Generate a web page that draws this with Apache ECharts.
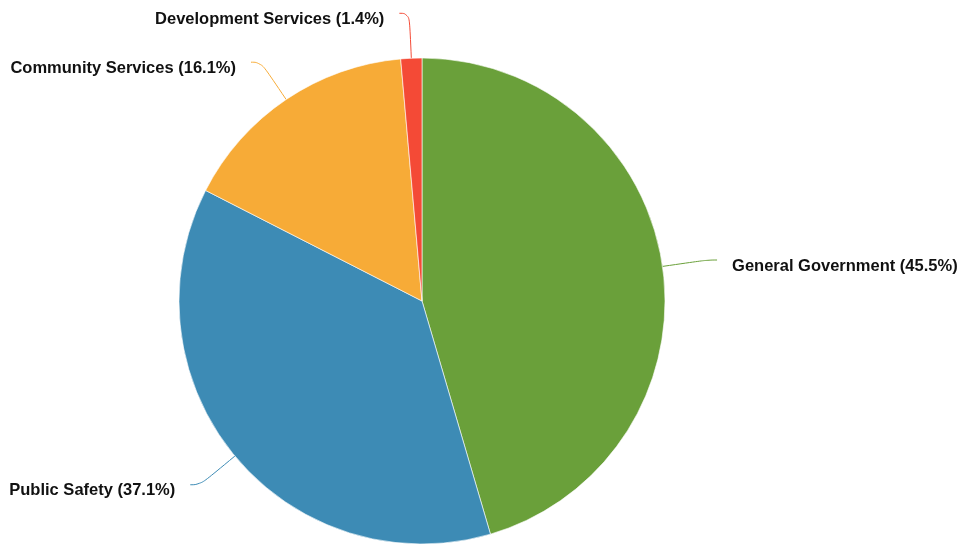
<!DOCTYPE html>
<html>
<head>
<meta charset="utf-8">
<script src="https://cdn.jsdelivr.net/npm/echarts@6/dist/echarts.min.js"></script>
<style>
  html, body { margin: 0; padding: 0; background: #fff; }
  #chart { width: 961px; height: 544px; }
</style>
</head>
<body>
<div id="chart"></div>
<script>
const categories = ['General Government', 'Public Safety', 'Community Services', 'Development Services'];
const values = [45.5, 37.1, 16.1, 1.4];
const colors = ['#6aa03a', '#3d8bb5', '#f7ab37', '#f44a36'];

const chart = echarts.init(document.getElementById('chart'), null, { renderer: 'canvas' });
chart.setOption({
  animation: false,
  series: [{
    type: 'pie',
    center: [422, 301],
    radius: [0, 243],
    startAngle: 90,
    clockwise: true,
    avoidLabelOverlap: false,
    data: categories.map((c, i) => ({ name: c, value: values[i], itemStyle: { color: colors[i] } })),
    itemStyle: { borderColor: '#ffffff', borderWidth: 0.6 },
    label: {
      show: true,
      position: 'outside',
      formatter: p => '\n' + p.name + ' (' + p.value.toFixed(1) + '%)',
      fontFamily: 'Liberation Sans, Arial, sans-serif',
      fontWeight: 'bold',
      fontSize: 16.5,
      lineHeight: 12,
      color: '#111',
      distanceToLabelLine: 15
    },
    labelLine: {
      show: true,
      length: 45,
      length2: 10,
      smooth: 0.5,
      lineStyle: { width: 1 }
    },
    emphasis: { disabled: true }
  }]
});
</script>
</body>
</html>
